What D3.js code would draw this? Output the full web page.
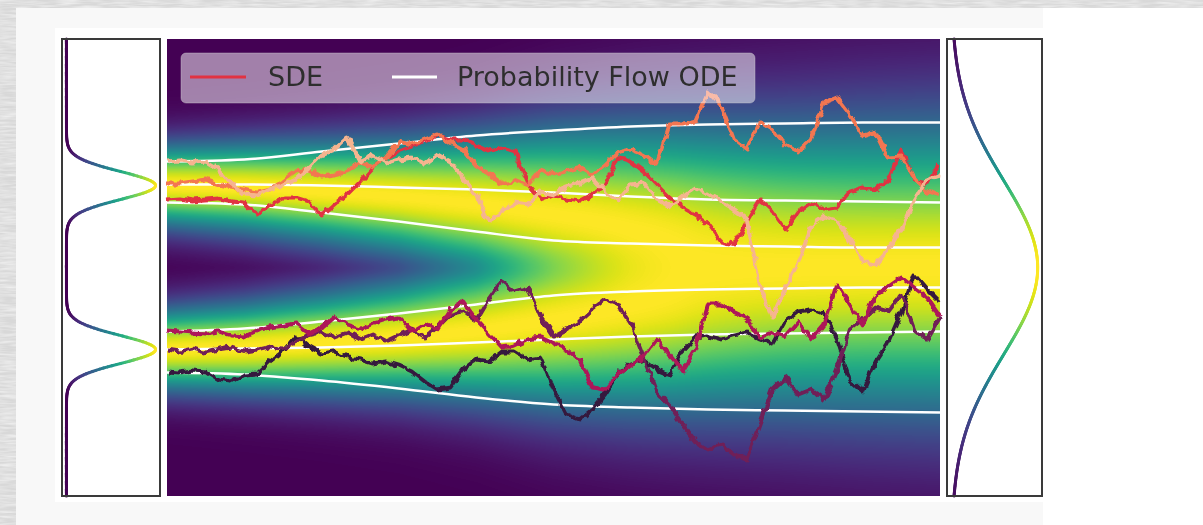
<!DOCTYPE html>
<html>
<head>
<meta charset="utf-8">
<script src="https://cdn.jsdelivr.net/npm/d3@7"></script>
<style>
  body { margin: 0; background: #ffffff; }
  svg { display: block; font-family: "DejaVu Sans", sans-serif; }
</style>
</head>
<body>
<svg id="chart" width="1203" height="525"></svg>
<script>
// Time knots for the density / ODE values (0 = data, 1 = prior)
var knotTimes = [0, 0.1, 0.2, 0.3, 0.4, 0.5, 0.6, 0.7, 0.8, 0.9, 1.0];

// Mixture mode centre (+/-) and spread at each knot
var modeMean = [0.82, 0.80, 0.76, 0.71, 0.64, 0.53, 0.43, 0.35, 0.28, 0.22, 0.18];
var modeStd  = [0.14, 0.155, 0.175, 0.20, 0.24, 0.30, 0.345, 0.38, 0.41, 0.44, 0.46];
var colorGamma = 0.25;

// Side panels: data density (left) and prior density (right)
var leftModes = [0.82, -0.82];
var leftStd = 0.14;
var rightModes = [0];
var rightStd = 0.87;

// Probability flow ODE trajectories, one value per knot
var odeA = [1.06, 1.08, 1.16, 1.24, 1.32, 1.37, 1.41, 1.43, 1.44, 1.45, 1.45];
var odeB = [0.83, 0.83, 0.82, 0.80, 0.78, 0.75, 0.71, 0.68, 0.67, 0.66, 0.65];
var odeC = [0.65, 0.63, 0.55, 0.46, 0.36, 0.27, 0.24, 0.22, 0.21, 0.20, 0.20];
var odeD = [-0.64, -0.61, -0.54, -0.46, -0.37, -0.28, -0.24, -0.22, -0.21, -0.20, -0.20];
var odeE = [-0.82, -0.81, -0.80, -0.78, -0.75, -0.72, -0.69, -0.67, -0.66, -0.65, -0.64];
var odeF = [-1.05, -1.07, -1.13, -1.21, -1.30, -1.37, -1.40, -1.42, -1.43, -1.44, -1.45];

// SDE sample paths, 61 steps each (t = 0 .. 1)
var sdeSteps = 60;
var sdePeach = [1.06, 1.07, 1.05, 1.06, 0.98, 0.83, 0.73, 0.72, 0.78, 0.82, 0.88, 1.00, 1.13, 1.18, 1.30, 1.06,
  1.12, 1.04, 1.08, 1.10, 1.04, 1.13, 1.06, 0.88, 0.72, 0.46, 0.56, 0.65, 0.63, 0.76, 0.73, 0.80, 0.85, 0.90,
  0.76, 0.68, 0.83, 0.85, 0.68, 0.61, 0.70, 0.80, 0.74, 0.66, 0.58, 0.48, -0.17, -0.50, -0.20, 0.06, 0.42,
  0.51, 0.47, 0.28, 0.06, 0.03, 0.18, 0.40, 0.66, 0.88, 0.92];
var sdeOrange = [0.84, 0.84, 0.86, 0.88, 0.83, 0.80, 0.78, 0.75, 0.78, 0.86, 0.96, 0.98, 0.91, 0.93, 0.96, 1.05,
  1.00, 1.10, 1.26, 1.23, 1.28, 1.33, 1.25, 1.18, 1.02, 0.93, 0.83, 0.87, 0.82, 0.98, 0.93, 0.96, 1.00, 0.93,
  1.03, 1.15, 1.18, 1.13, 1.03, 1.43, 1.43, 1.46, 1.76, 1.63, 1.28, 1.18, 1.46, 1.38, 1.23, 1.16, 1.28, 1.65,
  1.70, 1.53, 1.32, 1.36, 1.10, 1.11, 0.90, 0.76, 0.72];
var sdeRed = [0.68, 0.69, 0.67, 0.68, 0.69, 0.66, 0.65, 0.53, 0.63, 0.70, 0.70, 0.66, 0.52, 0.63, 0.73, 0.86,
  1.00, 1.10, 1.16, 1.21, 1.26, 1.32, 1.28, 1.28, 1.22, 1.16, 1.20, 1.16, 0.83, 0.68, 0.73, 0.68, 0.66, 0.73,
  0.82, 1.10, 1.06, 0.96, 0.83, 0.70, 0.60, 0.53, 0.44, 0.26, 0.23, 0.46, 0.68, 0.56, 0.38, 0.56, 0.65, 0.58,
  0.60, 0.76, 0.80, 0.78, 0.88, 1.18, 0.88, 0.83, 1.05];
var sdeMagenta = [-0.63, -0.64, -0.65, -0.66, -0.64, -0.68, -0.69, -0.63, -0.60, -0.58, -0.56, -0.66, -0.60,
  -0.49, -0.58, -0.62, -0.56, -0.52, -0.50, -0.64, -0.56, -0.62, -0.42, -0.34, -0.52, -0.66, -0.80, -0.78,
  -0.72, -0.70, -0.76, -0.82, -0.92, -1.20, -1.22, -1.07, -0.97, -0.90, -0.72, -0.87, -1.04, -0.82, -0.37,
  -0.37, -0.44, -0.50, -0.70, -0.65, -0.69, -0.54, -0.72, -0.57, -0.17, -0.37, -0.58, -0.27, -0.19, -0.10,
  -0.20, -0.30, -0.49];
var sdePlum = [-0.82, -0.84, -0.81, -0.85, -0.82, -0.80, -0.84, -0.82, -0.79, -0.82, -0.74, -0.67, -0.64,
  -0.70, -0.65, -0.72, -0.67, -0.74, -0.68, -0.62, -0.70, -0.60, -0.47, -0.44, -0.54, -0.32, -0.14, -0.24,
  -0.20, -0.50, -0.69, -0.62, -0.54, -0.42, -0.32, -0.37, -0.57, -0.90, -1.24, -1.37, -1.57, -1.74, -1.82,
  -1.77, -1.87, -1.92, -1.57, -1.22, -1.10, -1.27, -1.22, -1.32, -1.02, -0.62, -0.52, -0.40, -0.44, -0.27,
  -0.62, -0.72, -0.50];
var sdeDark = [-1.04, -1.05, -1.03, -1.04, -1.12, -1.14, -1.07, -1.06, -0.94, -0.84, -0.68, -0.79, -0.86,
  -0.84, -0.90, -0.92, -0.96, -0.94, -0.98, -1.04, -1.14, -1.22, -1.20, -1.02, -0.92, -0.94, -0.84, -0.84,
  -0.92, -0.90, -1.22, -1.47, -1.52, -1.42, -1.27, -1.07, -0.96, -0.92, -1.02, -1.07, -0.84, -0.70, -0.68,
  -0.72, -0.68, -0.65, -0.72, -0.77, -0.54, -0.44, -0.42, -0.47, -0.72, -1.12, -1.24, -0.94, -0.74, -0.44,
  -0.07, -0.22, -0.35];

// Palette of the SDE paths (drawn dark first, light last)
var sdePaths = [sdeDark, sdePlum, sdeMagenta, sdeRed, sdeOrange, sdePeach];
var sdeColors = ["#35193e", "#701f57", "#ad1759", "#e13342", "#f37651", "#f6b48f"];
var odePaths = [odeA, odeB, odeC, odeD, odeE, odeF];

var legendLabels = ["SDE", "Probability Flow ODE"];

var svg = d3.select("#chart");

// ---- page background: grainy grey, pale card, white figure
var defs = svg.append("defs");
var grain = defs.append("filter").attr("id", "grain")
    .attr("color-interpolation-filters", "sRGB")
    .attr("x", 0).attr("y", 0).attr("width", "100%").attr("height", "100%");
grain.append("feTurbulence").attr("type", "fractalNoise")
    .attr("baseFrequency", "0.05 0.45").attr("numOctaves", 2).attr("seed", 4);
grain.append("feColorMatrix").attr("type", "matrix")
    .attr("values", "0 0 0 0 1  0 0 0 0 1  0 0 0 0 1  1.0 0 0 0 -0.3");

// gentle wobble so the sample paths read as noisy walks
var rough = defs.append("filter").attr("id", "rough")
    .attr("color-interpolation-filters", "sRGB")
    .attr("filterUnits", "userSpaceOnUse")
    .attr("x", 150).attr("y", 30).attr("width", 810).attr("height", 480);
rough.append("feTurbulence").attr("type", "fractalNoise")
    .attr("baseFrequency", "0.14 0.10").attr("numOctaves", 2).attr("seed", 7).attr("result", "n");
rough.append("feDisplacementMap").attr("in", "SourceGraphic").attr("in2", "n")
    .attr("scale", 7).attr("xChannelSelector", "R").attr("yChannelSelector", "G");

// the reference is a slightly soft raster
var soft = defs.append("filter").attr("id", "soft")
    .attr("color-interpolation-filters", "sRGB");
soft.append("feGaussianBlur").attr("stdDeviation", 0.45);

svg.append("rect").attr("width", 1203).attr("height", 525).attr("fill", "#d8d8d8");
svg.append("rect").attr("width", 1203).attr("height", 525).attr("filter", "url(#grain)");
svg.append("rect").attr("x", 16).attr("y", 8).attr("width", 1027).attr("height", 517).attr("fill", "#f8f8f8");
svg.append("rect").attr("x", 1043).attr("y", 8).attr("width", 160).attr("height", 517).attr("fill", "#ffffff");
svg.append("rect").attr("x", 55).attr("y", 28).attr("width", 988).attr("height", 474).attr("fill", "#ffffff");

var fig = svg.append("g").attr("filter", "url(#soft)");

// ---- scales
var tScale = d3.scaleLinear().domain([0, 1]).range([167, 940]);
var yScale = d3.scaleLinear().domain([-2.285, 2.285]).range([496, 39]);
var leftX = d3.scaleLinear().domain([-0.05, 1.05]).range([62, 160]);
var rightX = d3.scaleLinear().domain([-0.05, 1.05]).range([947, 1042]);
var color = d3.scaleSequential(d3.interpolateViridis).domain([0, 1]);

var meanAt = d3.scaleLinear().domain(knotTimes).range(modeMean);
var stdAt = d3.scaleLinear().domain(knotTimes).range(modeStd);

function mixture(v, modes, s) {
    var p = 0;
    for (var m of modes) { p += Math.exp(-(v - m) * (v - m) / (2 * s * s)); }
    return p;
}

// ---- heatmap of the marginal density, drawn on a canvas then placed in the svg
function drawHeatmap() {
    var x0 = tScale.range()[0], y0 = yScale.range()[1];
    var W = tScale.range()[1] - x0, H = yScale.range()[0] - y0;
    var canvas = document.createElement("canvas");
    canvas.width = W; canvas.height = H;
    var ctx = canvas.getContext("2d");
    var img = ctx.createImageData(W, H);
    var lut = d3.range(1024).map(function (i) { return d3.rgb(color(i / 1023)); });

    for (var i = 0; i < W; i++) {
        var t = tScale.invert(x0 + i + 0.5);
        var m = meanAt(t), s = stdAt(t);
        var col = [], pmax = 0;
        for (var j = 0; j < H; j++) {
            var p = mixture(yScale.invert(y0 + j + 0.5), [m, -m], s);
            col.push(p);
            if (p > pmax) pmax = p;
        }
        for (var j = 0; j < H; j++) {
            var c = lut[Math.round(1023 * Math.pow(col[j] / pmax, colorGamma))];
            var k = 4 * (j * W + i);
            img.data[k] = c.r; img.data[k + 1] = c.g; img.data[k + 2] = c.b; img.data[k + 3] = 255;
        }
    }
    ctx.putImageData(img, 0, 0);

    fig.append("image")
        .attr("x", x0).attr("y", y0).attr("width", W).attr("height", H)
        .attr("preserveAspectRatio", "none")
        .attr("href", canvas.toDataURL());
}

// ---- side panel density curve coloured by its own value
function drawPanel(xs, modes, s) {
    var g = fig.append("g");
    var vs = d3.range(0, 401).map(function (k) {
        return yScale.domain()[0] + k / 400 * (yScale.domain()[1] - yScale.domain()[0]);
    });
    var ps = vs.map(function (v) { return mixture(v, modes, s); });
    var pmax = d3.max(ps);
    for (var k = 0; k < vs.length - 1; k++) {
        var a = ps[k] / pmax, b = ps[k + 1] / pmax;
        g.append("line")
            .attr("x1", xs(a)).attr("y1", yScale(vs[k]))
            .attr("x2", xs(b)).attr("y2", yScale(vs[k + 1]))
            .attr("stroke", color((a + b) / 2))
            .attr("stroke-width", 3)
            .attr("stroke-linecap", "round");
    }
    g.append("rect")
        .attr("x", xs.range()[0]).attr("y", yScale.range()[1])
        .attr("width", xs.range()[1] - xs.range()[0])
        .attr("height", yScale.range()[0] - yScale.range()[1])
        .attr("fill", "none").attr("stroke", "#3a3a3a").attr("stroke-width", 2);
}

drawHeatmap();

// ---- ODE trajectories (white, smooth)
var odeLine = d3.line()
    .x(function (d, i) { return tScale(knotTimes[i]); })
    .y(function (d) { return yScale(d); })
    .curve(d3.curveMonotoneX);

fig.append("g").selectAll("path")
    .data(odePaths)
    .enter()
    .append("path")
    .attr("d", odeLine)
    .attr("fill", "none")
    .attr("stroke", "#ffffff")
    .attr("stroke-width", 2.5);

// ---- SDE sample paths
var sdeLine = d3.line()
    .x(function (d, i) { return tScale(i / sdeSteps); })
    .y(function (d) { return yScale(d); });

fig.append("g")
    .attr("filter", "url(#rough)")
    .selectAll("path")
    .data(sdePaths)
    .enter()
    .append("path")
    .attr("d", sdeLine)
    .attr("fill", "none")
    .attr("stroke", function (d, i) { return sdeColors[i]; })
    .attr("stroke-width", 3.8)
    .attr("stroke-linejoin", "round");

drawPanel(leftX, leftModes, leftStd);
drawPanel(rightX, rightModes, rightStd);

// ---- legend
var lg = fig.append("g");
lg.append("rect")
    .attr("x", 181).attr("y", 53).attr("width", 574).attr("height", 50).attr("rx", 5)
    .attr("fill", "#ffffff").attr("fill-opacity", 0.5)
    .attr("stroke", "#cccccc").attr("stroke-opacity", 0.4);
lg.append("line").attr("x1", 190).attr("x2", 246).attr("y1", 77).attr("y2", 77)
    .attr("stroke", sdeColors[3]).attr("stroke-width", 3);
lg.append("text").attr("x", 268).attr("y", 86).text(legendLabels[0])
    .attr("font-size", 27).attr("fill", "#2e2e2e");
lg.append("line").attr("x1", 392).attr("x2", 437).attr("y1", 77).attr("y2", 77)
    .attr("stroke", "#ffffff").attr("stroke-width", 3);
lg.append("text").attr("x", 457).attr("y", 86).text(legendLabels[1])
    .attr("font-size", 27).attr("fill", "#2e2e2e");
</script>
</body>
</html>
